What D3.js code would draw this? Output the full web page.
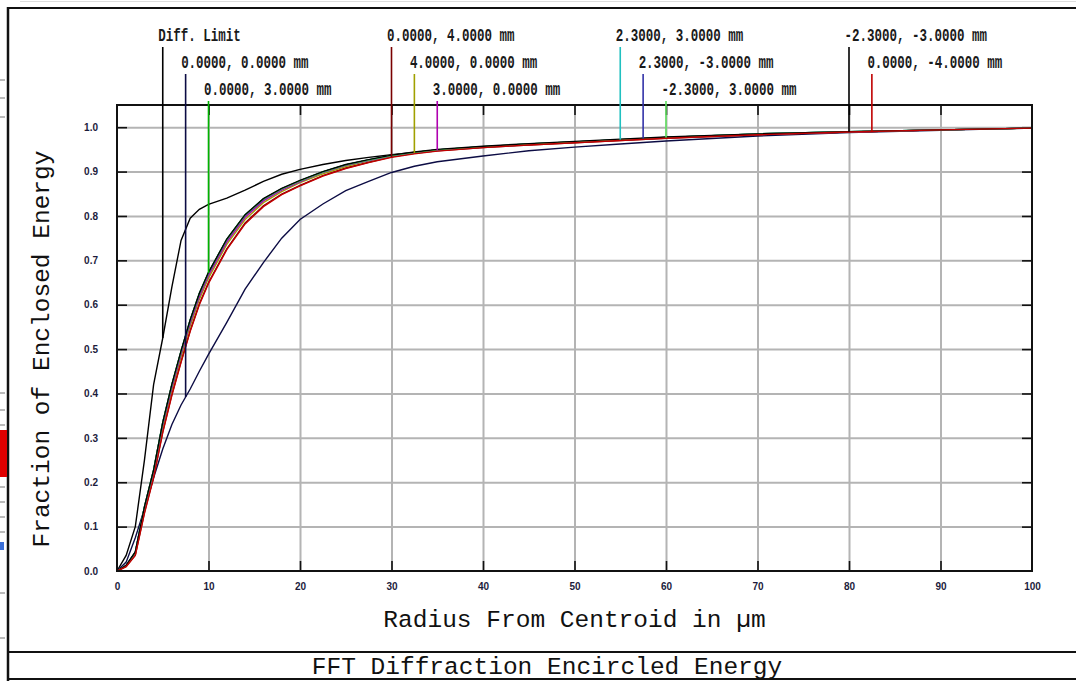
<!DOCTYPE html>
<html>
<head>
<meta charset="utf-8">
<script src="https://cdn.jsdelivr.net/npm/d3@7"></script>
<style>
  html, body { margin: 0; padding: 0; background: #fff; }
  svg { display: block; }
</style>
</head>
<body>
<div id="chart"></div>
<script>
// ---------------- DATA ----------------
const radius = [0,1,2,3,4,5,6,7,8,9,10,12,14,16,18,20,22.5,25,27.5,30,32.5,35,40,45,50,55,60,70,80,90,100];

const diffLimit = [0,0.035,0.100,0.250,0.420,0.525,0.640,0.745,0.795,0.815,0.826,0.840,0.858,0.878,0.894,0.905,0.916,0.925,0.932,0.938,0.943,0.948,0.955,0.961,0.966,0.971,0.976,0.984,0.989,0.994,0.998];
const f00     = [0,0.020,0.075,0.140,0.210,0.275,0.330,0.374,0.410,0.450,0.488,0.560,0.635,0.695,0.750,0.792,0.827,0.857,0.878,0.898,0.912,0.922,0.935,0.947,0.955,0.962,0.969,0.980,0.988,0.993,0.998];
const f03     = [0,0.012,0.042,0.144,0.227,0.334,0.420,0.495,0.565,0.625,0.672,0.747,0.802,0.838,0.861,0.879,0.899,0.915,0.926,0.936,0.943,0.949,0.956,0.962,0.967,0.972,0.977,0.985,0.990,0.994,0.998];
const f04     = [0,0.010,0.036,0.132,0.212,0.314,0.398,0.472,0.542,0.602,0.650,0.726,0.784,0.823,0.849,0.869,0.891,0.908,0.921,0.933,0.941,0.947,0.954,0.960,0.965,0.970,0.975,0.983,0.989,0.994,0.998];
const f40     = [0,0.011,0.038,0.137,0.218,0.322,0.407,0.482,0.552,0.612,0.660,0.736,0.792,0.830,0.855,0.875,0.895,0.911,0.924,0.934,0.942,0.948,0.955,0.961,0.966,0.971,0.976,0.984,0.989,0.994,0.998];
const f30     = [0,0.012,0.040,0.140,0.222,0.328,0.413,0.488,0.558,0.618,0.666,0.741,0.797,0.834,0.858,0.877,0.898,0.914,0.925,0.935,0.942,0.948,0.955,0.961,0.966,0.971,0.976,0.984,0.989,0.994,0.998];
const f2330   = [0,0.012,0.042,0.144,0.227,0.334,0.420,0.495,0.565,0.625,0.672,0.747,0.802,0.838,0.861,0.879,0.899,0.915,0.926,0.936,0.943,0.949,0.956,0.962,0.967,0.972,0.977,0.985,0.990,0.994,0.998];
const f23m30  = [0,0.012,0.042,0.144,0.226,0.333,0.419,0.494,0.564,0.624,0.671,0.746,0.801,0.837,0.861,0.879,0.899,0.915,0.926,0.936,0.943,0.949,0.956,0.962,0.967,0.972,0.977,0.985,0.990,0.994,0.998];
const fm2330  = [0,0.012,0.042,0.144,0.227,0.334,0.420,0.495,0.565,0.625,0.672,0.747,0.802,0.838,0.861,0.879,0.899,0.915,0.926,0.936,0.943,0.949,0.956,0.962,0.967,0.972,0.977,0.985,0.990,0.994,0.998];
const fm23m30 = [0,0.013,0.043,0.145,0.228,0.335,0.421,0.496,0.566,0.626,0.673,0.748,0.803,0.839,0.862,0.880,0.900,0.916,0.927,0.937,0.944,0.950,0.957,0.963,0.968,0.973,0.978,0.985,0.990,0.994,0.998];
const f0m4    = [0,0.010,0.035,0.130,0.210,0.312,0.396,0.470,0.540,0.600,0.648,0.724,0.782,0.821,0.848,0.868,0.890,0.907,0.920,0.932,0.940,0.946,0.954,0.960,0.965,0.970,0.975,0.983,0.989,0.994,0.998];

const seriesNames  = ["Diff. Limit","0.0000, 0.0000 mm","0.0000, 3.0000 mm","0.0000, 4.0000 mm","4.0000, 0.0000 mm","3.0000, 0.0000 mm","2.3000, 3.0000 mm","2.3000, -3.0000 mm","-2.3000, 3.0000 mm","-2.3000, -3.0000 mm","0.0000, -4.0000 mm"];
const seriesValues = [diffLimit, f00, f03, f04, f40, f30, f2330, f23m30, fm2330, fm23m30, f0m4];
const seriesColors = ["#000000","#0c0c44","#00b400","#7a0000","#a0a000","#b000b0","#20c0c0","#3232a8","#60e060","#000000","#c00000"];
const labelRadius  = [5, 7.5, 10, 30, 32.5, 35, 55, 57.5, 60, 80, 82.5];
const labelRow     = [0, 1, 2, 0, 1, 2, 0, 1, 2, 0, 1];

const xTicks = [0,10,20,30,40,50,60,70,80,90,100];
const yTicks = [0,0.1,0.2,0.3,0.4,0.5,0.6,0.7,0.8,0.9,1.0];

const title  = "FFT Diffraction Encircled Energy";
const xTitle = "Radius From Centroid in µm";
const yTitle = "Fraction of Enclosed Energy";

// ---------------- LAYOUT ----------------
const W = 1076, H = 681;
const L = 117, R = 1032, T = 105, B = 571;

const svg = d3.select("#chart").append("svg").attr("width", W).attr("height", H);

const x = d3.scaleLinear().domain([0, 100]).range([L, R]);
const y = d3.scaleLinear().domain([0, 1.05]).range([B, T]);

// window frame
const frame = svg.append("g");
frame.append("line").attr("x1", 20).attr("x2", W).attr("y1", 1.5).attr("y2", 1.5).attr("stroke", "#ddd").attr("stroke-width", 1);
frame.append("line").attr("x1", 7).attr("x2", W).attr("y1", 8).attr("y2", 8).attr("stroke", "#111").attr("stroke-width", 2);
frame.append("line").attr("x1", 8).attr("x2", 8).attr("y1", 7).attr("y2", H).attr("stroke", "#111").attr("stroke-width", 2.5);
frame.append("line").attr("x1", 8).attr("x2", W).attr("y1", 652).attr("y2", 652).attr("stroke", "#111").attr("stroke-width", 2);
frame.append("line").attr("x1", 8).attr("x2", W).attr("y1", 679).attr("y2", 679).attr("stroke", "#111").attr("stroke-width", 2);
// left-edge screen artifacts
const rulerY = [80, 98, 117, 393, 410, 425, 455, 470, 487, 502, 517, 532, 593, 638];
frame.selectAll(".ruler").data(rulerY).enter().append("line")
  .attr("x1", 0).attr("x2", 5).attr("y1", d => d).attr("y2", d => d)
  .attr("stroke", "#777").attr("stroke-width", 1);
frame.append("rect").attr("x", 0).attr("y", 430).attr("width", 7).attr("height", 47).attr("fill", "#e00000");
frame.append("rect").attr("x", 0).attr("y", 542).attr("width", 4).attr("height", 8).attr("fill", "#3a6fd8");

// grid
const grid = svg.append("g");
grid.append("g").attr("transform", `translate(0,${B})`)
  .call(d3.axisBottom(x).tickValues(xTicks.slice(1, -1)).tickSize(-(B - T)).tickFormat(""))
  .call(g => g.select(".domain").remove())
  .call(g => g.selectAll("line").attr("stroke", "#b4b4b4").attr("stroke-width", 2));
grid.append("g").attr("transform", `translate(${L},0)`)
  .call(d3.axisLeft(y).tickValues(yTicks.slice(1)).tickSize(-(R - L)).tickFormat(""))
  .call(g => g.select(".domain").remove())
  .call(g => g.selectAll("line").attr("stroke", "#b4b4b4").attr("stroke-width", 2));

// inward ticks on all sides
const tickLen = 10;
function styleTicks(g) {
  g.select(".domain").remove();
  g.selectAll("line").attr("stroke", "#111").attr("stroke-width", 1.6);
}
svg.append("g").attr("transform", `translate(${L},0)`)
  .call(d3.axisLeft(y).tickValues(yTicks.slice(1)).tickSize(-tickLen).tickFormat("")).call(styleTicks);
svg.append("g").attr("transform", `translate(${R},0)`)
  .call(d3.axisRight(y).tickValues(yTicks.slice(1)).tickSize(-tickLen).tickFormat("")).call(styleTicks);
svg.append("g").attr("transform", `translate(0,${B})`)
  .call(d3.axisBottom(x).tickValues(xTicks.slice(1, -1)).tickSize(-tickLen).tickFormat("")).call(styleTicks);
svg.append("g").attr("transform", `translate(0,${T})`)
  .call(d3.axisTop(x).tickValues(xTicks.slice(1, -1)).tickSize(-tickLen).tickFormat("")).call(styleTicks);

// tick labels
const tickFont = "'Liberation Sans', Arial, sans-serif";
svg.append("g").attr("transform", `translate(${L},0)`)
  .call(d3.axisLeft(y).tickValues(yTicks).tickSize(0).tickPadding(19).tickFormat(d3.format(".1f")))
  .call(g => g.select(".domain").remove())
  .call(g => g.selectAll("text").attr("font-family", tickFont).attr("font-size", 10).attr("font-weight", "bold").attr("fill", "#1c1c3c"));
svg.append("g").attr("transform", `translate(0,${B})`)
  .call(d3.axisBottom(x).tickValues(xTicks).tickSize(0).tickPadding(12).tickFormat(d3.format("d")))
  .call(g => g.select(".domain").remove())
  .call(g => g.selectAll("text").attr("font-family", tickFont).attr("font-size", 10).attr("font-weight", "bold").attr("fill", "#1c1c3c"));

// curves
const line = d3.line().x((d, i) => x(radius[i])).y(d => y(d));
const curves = svg.append("g");
seriesValues.forEach((vals, k) => {
  curves.append("path").datum(vals)
    .attr("d", line)
    .attr("fill", "none")
    .attr("stroke", seriesColors[k])
    .attr("stroke-width", 1.4);
});

// plot frame
svg.append("rect").attr("x", L).attr("y", T).attr("width", R - L).attr("height", B - T)
  .attr("fill", "none").attr("stroke", "#111").attr("stroke-width", 2);

// series labels with leader lines
const labelFont = "'Liberation Mono', 'Courier New', monospace";
const rowBase = d3.scaleLinear().domain([0, 1]).range([41, 68]);
const labels = svg.append("g");
seriesNames.forEach((name, k) => {
  const interp = d3.scaleLinear().domain(radius).range(seriesValues[k]);
  const lx = x(labelRadius[k]);
  const base = rowBase(labelRow[k]);
  labels.append("line")
    .attr("x1", lx).attr("x2", lx)
    .attr("y1", base + 6).attr("y2", y(interp(labelRadius[k])))
    .attr("stroke", seriesColors[k]).attr("stroke-width", 1.6);
  labels.append("text")
    .attr("x", lx - 4.5).attr("y", base)
    .attr("font-family", labelFont).attr("font-size", 17.5).attr("font-weight", "bold")
    .attr("textLength", name.length * 7.5).attr("lengthAdjust", "spacingAndGlyphs")
    .attr("fill", "#1a1a1a")
    .text(name);
});

// axis titles
const titleFont = "'Liberation Mono', 'Courier New', monospace";
svg.append("text").attr("x", (L + R) / 2).attr("y", 627)
  .attr("text-anchor", "middle").attr("font-family", titleFont).attr("font-size", 24.5)
  .attr("fill", "#111").text(xTitle);
svg.append("text").attr("transform", `translate(49,${(T + B) / 2 + 11}) rotate(-90)`)
  .attr("text-anchor", "middle").attr("font-family", titleFont).attr("font-size", 24.5)
  .attr("fill", "#111").text(yTitle);
svg.append("text").attr("x", 547).attr("y", 674)
  .attr("text-anchor", "middle").attr("font-family", titleFont).attr("font-size", 24.5)
  .attr("fill", "#111").text(title);
</script>
</body>
</html>
